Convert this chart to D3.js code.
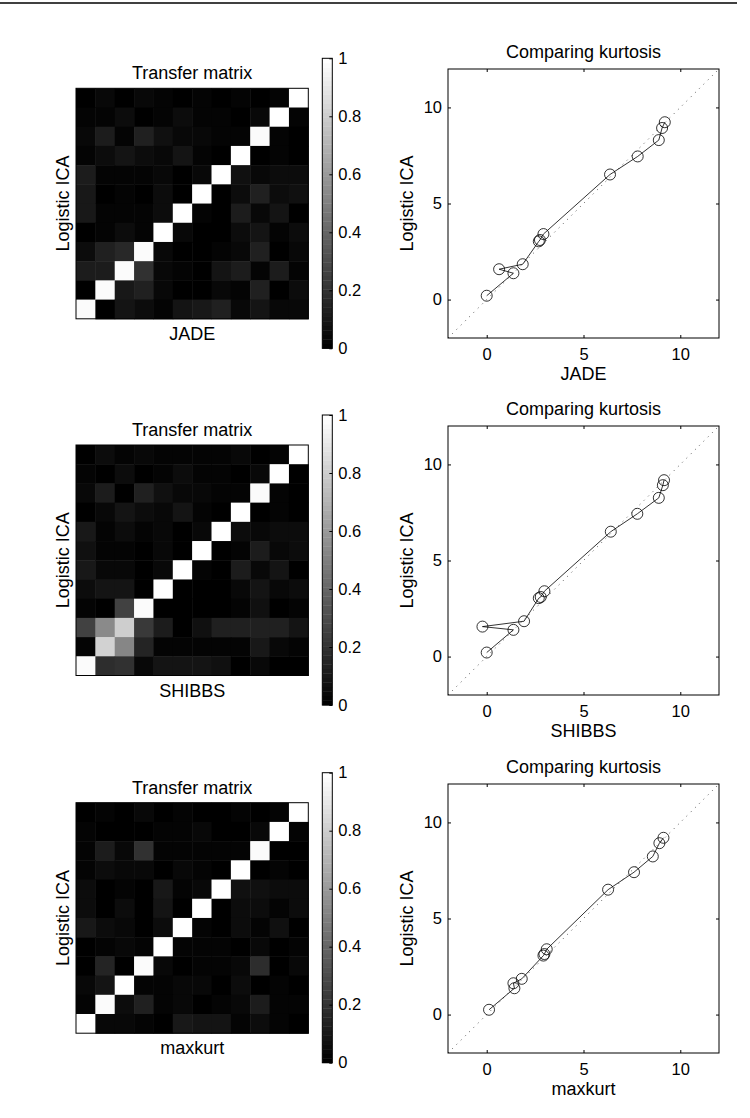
<!DOCTYPE html>
<html><head><meta charset="utf-8">
<script src="https://cdn.jsdelivr.net/npm/d3@7"></script>
<style>
body{margin:0;background:#fff}
svg{display:block}
text{font-family:"Liberation Sans",Arial,Helvetica,sans-serif;fill:#000}
</style>
</head><body>
<svg id="c" width="750" height="1118"></svg>
<script>
// ---------- DATA ----------
const methods = ["JADE", "SHIBBS", "maxkurt"];
const heatTitle = "Transfer matrix";
const scatterTitle = "Comparing kurtosis";
const yLabel = "Logistic ICA";
const colorbarTicks = [0, 0.2, 0.4, 0.6, 0.8, 1];
const scatterTicks = [0, 5, 10];
const scatterDomain = [-2, 12];

// transfer matrices, rows listed top-to-bottom as displayed, columns left-to-right
const transferJADE = [
  [0.00,0.04,0.00,0.04,0.02,0.00,0.02,0.01,0.03,0.00,0.03,1.00],
  [0.02,0.02,0.05,0.00,0.03,0.05,0.03,0.03,0.01,0.04,1.00,0.03],
  [0.04,0.12,0.03,0.14,0.07,0.04,0.04,0.03,0.03,0.97,0.03,0.01],
  [0.02,0.05,0.08,0.05,0.04,0.09,0.02,0.01,1.00,0.00,0.02,0.00],
  [0.11,0.02,0.03,0.02,0.04,0.00,0.04,1.00,0.07,0.04,0.06,0.06],
  [0.10,0.00,0.02,0.00,0.05,0.00,1.00,0.00,0.05,0.13,0.05,0.07],
  [0.10,0.03,0.03,0.03,0.06,1.00,0.02,0.01,0.12,0.04,0.09,0.00],
  [0.00,0.03,0.05,0.02,1.00,0.04,0.00,0.00,0.05,0.09,0.02,0.06],
  [0.05,0.13,0.17,0.97,0.04,0.00,0.00,0.02,0.04,0.13,0.00,0.04],
  [0.11,0.12,0.98,0.19,0.04,0.02,0.00,0.09,0.11,0.02,0.11,0.03],
  [0.00,0.98,0.10,0.14,0.04,0.00,0.00,0.04,0.03,0.14,0.00,0.06],
  [0.98,0.00,0.09,0.05,0.02,0.09,0.10,0.13,0.04,0.09,0.04,0.04]
];
const transferSHIBBS = [
  [0.00,0.05,0.02,0.04,0.02,0.02,0.02,0.02,0.04,0.00,0.03,1.00],
  [0.02,0.00,0.05,0.00,0.03,0.05,0.03,0.03,0.01,0.04,1.00,0.00],
  [0.04,0.12,0.00,0.13,0.07,0.04,0.04,0.03,0.03,0.97,0.03,0.01],
  [0.00,0.04,0.08,0.05,0.04,0.09,0.02,0.01,1.00,0.00,0.02,0.00],
  [0.10,0.02,0.05,0.02,0.04,0.00,0.04,1.00,0.05,0.04,0.06,0.06],
  [0.07,0.02,0.02,0.00,0.04,0.00,1.00,0.00,0.03,0.12,0.04,0.05],
  [0.10,0.04,0.04,0.00,0.04,1.00,0.02,0.01,0.12,0.04,0.09,0.00],
  [0.06,0.09,0.09,0.00,1.00,0.00,0.00,0.00,0.04,0.08,0.04,0.06],
  [0.02,0.00,0.25,0.97,0.00,0.00,0.00,0.00,0.02,0.07,0.00,0.03],
  [0.26,0.54,0.80,0.22,0.11,0.00,0.07,0.14,0.13,0.13,0.13,0.09],
  [0.02,0.82,0.53,0.15,0.03,0.02,0.02,0.02,0.02,0.10,0.04,0.02],
  [0.97,0.18,0.20,0.04,0.09,0.09,0.09,0.07,0.00,0.04,0.00,0.00]
];
const transferMaxkurt = [
  [0.00,0.03,0.00,0.04,0.00,0.02,0.00,0.00,0.03,0.00,0.03,1.00],
  [0.03,0.00,0.00,0.00,0.02,0.02,0.04,0.00,0.00,0.04,1.00,0.03],
  [0.02,0.12,0.04,0.20,0.02,0.02,0.02,0.02,0.02,0.97,0.00,0.00],
  [0.02,0.05,0.04,0.04,0.00,0.04,0.02,0.00,1.00,0.00,0.02,0.00],
  [0.05,0.00,0.02,0.00,0.10,0.02,0.04,1.00,0.07,0.07,0.06,0.06],
  [0.05,0.00,0.06,0.00,0.08,0.00,1.00,0.00,0.05,0.05,0.03,0.05],
  [0.10,0.05,0.04,0.00,0.05,1.00,0.02,0.00,0.06,0.02,0.07,0.00],
  [0.00,0.02,0.04,0.02,1.00,0.02,0.02,0.02,0.00,0.04,0.00,0.02],
  [0.00,0.15,0.00,0.98,0.04,0.00,0.02,0.02,0.04,0.18,0.00,0.04],
  [0.04,0.08,1.00,0.02,0.02,0.04,0.04,0.00,0.05,0.00,0.02,0.00],
  [0.02,0.98,0.05,0.13,0.03,0.04,0.00,0.02,0.04,0.12,0.02,0.03],
  [1.00,0.04,0.04,0.02,0.00,0.10,0.08,0.08,0.02,0.05,0.02,0.00]
];

// kurtosis estimates (x: compared method, y: logistic ICA)
const kurtJADE        = [0.00, 1.38, 0.64, 1.86, 2.69, 2.75, 2.93, 6.37, 7.80, 8.89, 9.06, 9.20];
const kurtLogisticA   = [0.20, 1.37, 1.58, 1.84, 3.03, 3.10, 3.41, 6.51, 7.45, 8.30, 8.93, 9.23];
const kurtSHIBBS      = [0.00, 1.38, -0.22, 1.93, 2.69, 2.79, 2.98, 6.41, 7.78, 8.89, 9.10, 9.16];
const kurtLogisticB   = [0.21, 1.39, 1.56, 1.84, 3.04, 3.10, 3.40, 6.50, 7.43, 8.26, 8.92, 9.18];
const kurtMaxkurt     = [0.12, 1.43, 1.38, 1.81, 2.93, 2.98, 3.10, 6.27, 7.61, 8.58, 8.92, 9.13];
const kurtLogisticC   = [0.25, 1.37, 1.63, 1.86, 3.07, 3.15, 3.40, 6.50, 7.41, 8.23, 8.92, 9.20];

const panels = [
  {name: methods[0], matrix: transferJADE,    xs: kurtJADE,    ys: kurtLogisticA},
  {name: methods[1], matrix: transferSHIBBS,  xs: kurtSHIBBS,  ys: kurtLogisticB},
  {name: methods[2], matrix: transferMaxkurt, xs: kurtMaxkurt, ys: kurtLogisticC}
];

// ---------- LAYOUT ----------
const svg = d3.select("#c");
const FS_TITLE = 18, FS_LABEL = 18, FS_TICK = 16.5;
const heatTops = [88.3, 445, 802.7];
const scatTops = [69, 426, 784];
const heatL = 76, heatW = 232.3, heatH = 230.5;
const cbL = 322.3, cbW = 10, cbH = 290;
const scL = 448, scW = 271, scH = 269;

// top rule
svg.append("line").attr("x1", 0).attr("x2", 737).attr("y1", 3).attr("y2", 3)
  .attr("stroke", "#000").attr("stroke-width", 1.5);

const nLevels = 64;
const grayLevels = d3.range(nLevels).map(i => { const g = Math.round(255 * i / (nLevels - 1)); return d3.rgb(g, g, g).formatHex(); });
const color = d3.scaleQuantize().domain([0, 1]).range(grayLevels);

panels.forEach((p, pi) => {
  const g = svg.append("g");
  // ---- heatmap ----
  const hTop = heatTops[pi];
  const n = p.matrix.length;
  const hx = d3.scaleBand().domain(d3.range(n)).range([heatL, heatL + heatW]);
  const hy = d3.scaleBand().domain(d3.range(n)).range([hTop, hTop + heatH]);
  const cells = [];
  p.matrix.forEach((row, r) => row.forEach((v, c) => cells.push({r, c, v})));
  g.append("g").selectAll("rect").data(cells).join("rect")
    .attr("x", d => hx(d.c)).attr("y", d => hy(d.r))
    .attr("width", hx.bandwidth() + 0.5).attr("height", hy.bandwidth() + 0.5)
    .attr("fill", d => color(d.v));
  g.append("rect").attr("x", heatL).attr("y", hTop).attr("width", heatW).attr("height", heatH)
    .attr("fill", "none").attr("stroke", "#000").attr("stroke-width", 1);
  g.append("text").attr("x", heatL + heatW / 2).attr("y", hTop - 9)
    .attr("text-anchor", "middle").style("font-size", FS_TITLE + "px").text(heatTitle);
  g.append("text").attr("x", heatL + heatW / 2).attr("y", hTop + heatH + 21)
    .attr("text-anchor", "middle").style("font-size", FS_LABEL + "px").text(p.name);
  g.append("text").attr("transform", `translate(${heatL - 7},${hTop + heatH / 2}) rotate(-90)`)
    .attr("text-anchor", "middle").style("font-size", FS_LABEL + "px").text(yLabel);

  // ---- colorbar ----
  const cbTop = hTop - 30;
  const cy = d3.scaleLinear().domain([0, 1]).range([cbTop + cbH, cbTop]);
  g.append("g").selectAll("rect").data(grayLevels).join("rect")
    .attr("x", cbL).attr("width", cbW)
    .attr("y", (d, i) => cy((i + 1) / nLevels)).attr("height", cbH / nLevels + 0.4)
    .attr("fill", d => d);
  g.append("rect").attr("x", cbL).attr("y", cbTop).attr("width", cbW).attr("height", cbH)
    .attr("fill", "none").attr("stroke", "#000").attr("stroke-width", 1);
  const cbAxis = g.append("g").attr("transform", `translate(${cbL + cbW},0)`)
    .call(d3.axisRight(cy).tickValues(colorbarTicks).tickSize(-3).tickPadding(6)
      .tickFormat(d => d === 0 ? "0" : d === 1 ? "1" : d3.format(".1f")(d)));
  cbAxis.select(".domain").remove();
  cbAxis.selectAll("text").style("font-size", FS_TICK + "px").attr("fill", "#000");
  cbAxis.selectAll("line").attr("stroke", "#000");

  // ---- scatter ----
  const sTop = scatTops[pi];
  const sx = d3.scaleLinear().domain(scatterDomain).range([scL, scL + scW]);
  const sy = d3.scaleLinear().domain(scatterDomain).range([sTop + scH, sTop]);
  const clipId = "clip" + pi;
  g.append("clipPath").attr("id", clipId).append("rect")
    .attr("x", scL).attr("y", sTop).attr("width", scW).attr("height", scH);
  const pg = g.append("g").attr("clip-path", `url(#${clipId})`);
  pg.append("path").datum(scatterDomain.map(v => [v, v]))
    .attr("d", d3.line().x(d => sx(d[0])).y(d => sy(d[1])))
    .attr("fill", "none").attr("stroke", "#555").attr("stroke-width", 1)
    .attr("stroke-dasharray", "1 5");
  const pts = d3.sort(p.xs.map((x, i) => ({x, y: p.ys[i]})), d => d.y);
  pg.append("path").datum(pts)
    .attr("d", d3.line().x(d => sx(d.x)).y(d => sy(d.y)))
    .attr("fill", "none").attr("stroke", "#000").attr("stroke-width", 0.8);
  pg.append("g").selectAll("circle").data(pts).join("circle")
    .attr("cx", d => sx(d.x)).attr("cy", d => sy(d.y)).attr("r", 5.5)
    .attr("fill", "none").attr("stroke", "#000").attr("stroke-width", 0.8);

  const styleAxis = (sel, labels) => {
    sel.select(".domain").remove();
    sel.selectAll("line").attr("stroke", "#000");
    sel.selectAll("text").style("font-size", FS_TICK + "px").attr("fill", "#000");
    if (!labels) sel.selectAll("text").remove();
  };
  g.append("g").attr("transform", `translate(0,${sTop + scH})`)
    .call(d3.axisBottom(sx).tickValues(scatterTicks).tickSize(-3).tickPadding(10))
    .call(s => styleAxis(s, true));
  g.append("g").attr("transform", `translate(0,${sTop})`)
    .call(d3.axisTop(sx).tickValues(scatterTicks).tickSize(-3))
    .call(s => styleAxis(s, false));
  g.append("g").attr("transform", `translate(${scL},0)`)
    .call(d3.axisLeft(sy).tickValues(scatterTicks).tickSize(-3).tickPadding(6))
    .call(s => styleAxis(s, true));
  g.append("g").attr("transform", `translate(${scL + scW},0)`)
    .call(d3.axisRight(sy).tickValues(scatterTicks).tickSize(-3))
    .call(s => styleAxis(s, false));
  g.append("rect").attr("x", scL).attr("y", sTop).attr("width", scW).attr("height", scH)
    .attr("fill", "none").attr("stroke", "#000").attr("stroke-width", 1);

  g.append("text").attr("x", scL + scW / 2).attr("y", sTop - 11)
    .attr("text-anchor", "middle").style("font-size", FS_TITLE + "px").text(scatterTitle);
  g.append("text").attr("x", scL + scW / 2).attr("y", sTop + scH + 42)
    .attr("text-anchor", "middle").style("font-size", FS_LABEL + "px").text(p.name);
  g.append("text").attr("transform", `translate(${scL - 35.5},${sTop + scH / 2}) rotate(-90)`)
    .attr("text-anchor", "middle").style("font-size", FS_LABEL + "px").text(yLabel);
});
</script>
</body></html>
